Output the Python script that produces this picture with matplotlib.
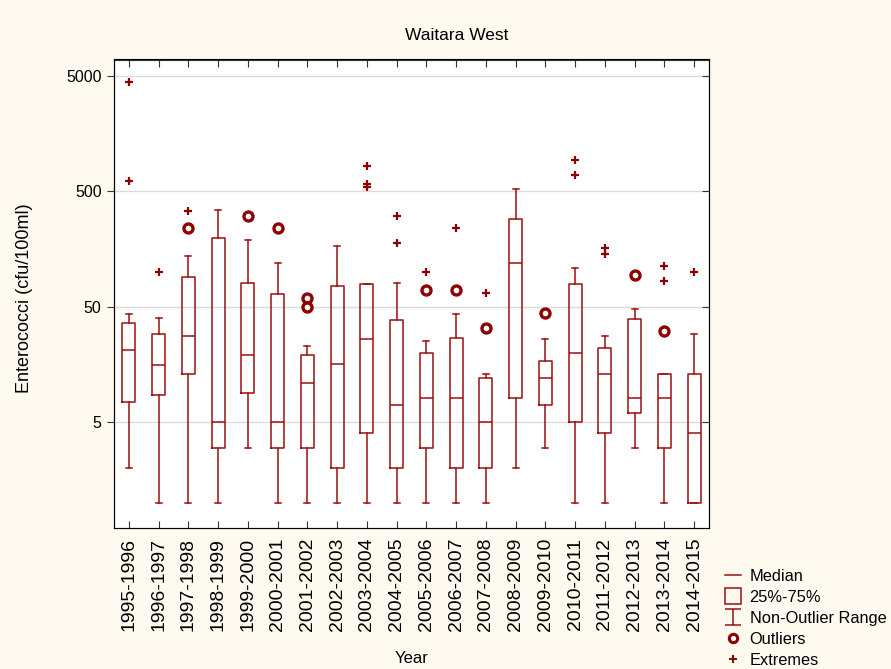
import numpy as np
import matplotlib.pyplot as plt
from matplotlib.lines import Line2D
from matplotlib.path import Path
from matplotlib.ticker import FixedLocator, NullLocator

plt.rcParams['font.family'] = ['Liberation Sans', 'DejaVu Sans']

# Data (cfu/100ml)
years = ['1995-1996', '1996-1997', '1997-1998', '1998-1999', '1999-2000',
         '2000-2001', '2001-2002', '2002-2003', '2003-2004', '2004-2005',
         '2005-2006', '2006-2007', '2007-2008', '2008-2009', '2009-2010',
         '2010-2011', '2011-2012', '2012-2013', '2013-2014', '2014-2015']
medians = [21, 15.5, 28, 5, 19, 5, 11, 16, 26, 7, 8, 8, 5, 120, 12, 20, 13, 8, 8, 4]
q1 = [7.5, 8.5, 13, 3, 9, 3, 3, 2, 4, 2, 3, 2, 2, 8, 7, 5, 4, 6, 3, 1]
q3 = [36, 29, 91, 198, 81, 65, 19, 76, 79, 38, 20, 27, 12, 286, 17, 79, 22, 39, 13, 13]
whisk_lo = [2, 1, 1, 1, 3, 1, 1, 1, 1, 1, 1, 1, 1, 2, 3, 1, 1, 3, 1, 1]
whisk_hi = [43, 40, 138, 347, 188, 120, 23, 169, 79, 81, 25, 43, 13, 527, 26, 109, 28, 48, 13, 29]

# outliers / extremes: (box number, value)
outlier_pos = [3, 5, 6, 7, 7, 11, 12, 13, 15, 18, 19]
outlier_vals = [240, 306, 240, 60, 50, 70, 70, 33, 44, 94, 31]
extreme_pos = [1, 1, 2, 3, 9, 9, 9, 10, 10, 11, 12, 13, 16, 16, 17, 17, 19, 19, 20]
extreme_vals = [4460, 615, 100, 340, 824, 575, 548, 306, 180, 100, 240, 66,
                929, 693, 162, 143, 113, 84, 100]

BOX_COL = '#9a1010'
MARK_COL = '#8b0000'
BG = '#fffaf0'

W, H = 891, 669
fig = plt.figure(figsize=(W / 100, H / 100), dpi=100, facecolor=BG)
# axes placed in pixel terms
left, right, top, bottom = 114, 709, 59.5, 528
ax = fig.add_axes([left / W, 1 - bottom / H, (right - left) / W, (bottom - top) / H])
ax.set_facecolor('white')

stats = []
for i in range(len(years)):
    stats.append(dict(med=medians[i], q1=q1[i], q3=q3[i],
                      whislo=whisk_lo[i], whishi=whisk_hi[i], fliers=[]))

pos = np.arange(1, len(years) + 1)
line_kw = dict(color=BOX_COL, linewidth=1.1)
ax.bxp(stats, positions=pos, widths=0.43, capwidths=0.2, showfliers=False,
       boxprops=line_kw, medianprops=line_kw, whiskerprops=line_kw, capprops=line_kw)

ax.plot(outlier_pos, outlier_vals, linestyle='none', marker='o', markersize=6.5,
        markerfacecolor='white', markeredgecolor=MARK_COL, markeredgewidth=2.4, zorder=5)
ax.plot(extreme_pos, extreme_vals, linestyle='none', marker='+', markersize=6,
        color=MARK_COL, markeredgewidth=1.6, zorder=5)

ax.set_yscale('log')
ax.set_ylim(0.602, 6966)
ax.set_xlim(0.5, len(years) + 0.5)
ax.yaxis.set_major_locator(FixedLocator([5, 50, 500, 5000]))
ax.yaxis.set_minor_locator(NullLocator())
ax.set_yticklabels(['5', '50', '500', '5000'], fontsize=11.5)
ax.grid(axis='y', color='#dcdcdc', linewidth=1)
ax.set_axisbelow(True)

ax.set_xticks(pos)
ax.set_xticklabels(years, rotation=90, fontsize=14)
ax.tick_params(axis='x', direction='in', top=True, length=5, pad=7, color='#333333')
ax.tick_params(axis='y', direction='out', length=5, color='#333333', pad=4)
ax.tick_params(axis='y', which='both', right=False)
for sp in ax.spines.values():
    sp.set_color('#333333')

# right side inward ticks
ax2 = ax.twinx()
ax2.set_yscale('log')
ax2.set_ylim(ax.get_ylim())
ax2.yaxis.set_major_locator(FixedLocator([5, 50, 500, 5000]))
ax2.yaxis.set_minor_locator(NullLocator())
ax2.tick_params(axis='y', direction='in', length=5, labelright=False, color='#333333')

ax.set_ylabel('Enterococci (cfu/100ml)', fontsize=13)
ax.yaxis.set_label_coords(-0.136, 0.49)
ax.set_xlabel('Year', fontsize=12)
ax.xaxis.set_label_coords(0.5, -0.2625)

fig.text(457 / W, 1 - 35 / H, 'Waitara West', ha='center', va='center', fontsize=12.5)

# legend
ibeam = Path([(-1, 1), (1, 1), (0, 1), (0, -1), (-1, -1), (1, -1)],
             [Path.MOVETO, Path.LINETO, Path.MOVETO, Path.LINETO, Path.MOVETO, Path.LINETO])
handles = [
    Line2D([], [], color=BOX_COL, linewidth=1.1),
    Line2D([], [], linestyle='none', marker='s', markersize=11, markerfacecolor='none',
           markeredgecolor=BOX_COL, markeredgewidth=1.1),
    Line2D([], [], linestyle='none', marker=ibeam, markersize=12, color=BOX_COL,
           markeredgewidth=1.1),
    Line2D([], [], linestyle='none', marker='o', markersize=6, markerfacecolor='white',
           markeredgecolor=MARK_COL, markeredgewidth=2.2),
    Line2D([], [], linestyle='none', marker='+', markersize=5.5, color=MARK_COL,
           markeredgewidth=1.4),
]
labels = ['Median', '25%-75%', 'Non-Outlier Range', 'Outliers', 'Extremes']
fig.legend(handles, labels, loc='upper left', bbox_to_anchor=(725 / W, 1 - 569 / H),
           frameon=False, fontsize=11.8, handlelength=1.0, handletextpad=0.5,
           labelspacing=0.36, borderpad=0, borderaxespad=0)

fig.savefig('out.png', dpi=100, facecolor=BG)
